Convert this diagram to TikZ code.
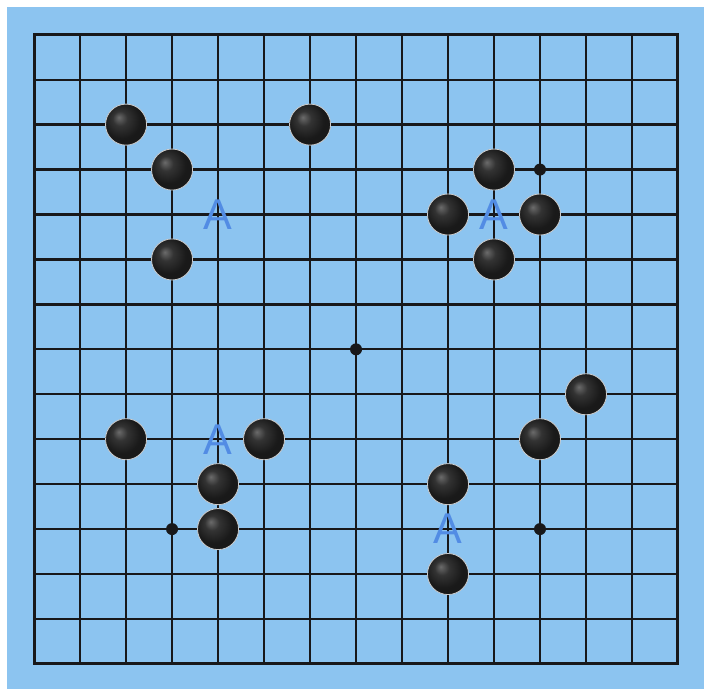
\documentclass[tikz,border=0pt]{standalone}
\usepackage{fontspec}
\setsansfont{Liberation Sans}
\definecolor{boardblue}{RGB}{140,196,240}
\definecolor{markblue}{RGB}{82,140,228}
\definecolor{linegray}{RGB}{24,24,26}
\pgfdeclareradialshading{stoneshade}{\pgfpoint{-9bp}{9bp}}{color(0bp)=(black!58);
  color(9bp)=(black!80); color(22bp)=(black!90); color(50bp)=(black!90)}

\begin{document}
\begin{tikzpicture}[x=45.93pt,y=-44.88pt,
  stone/.style={shading=stoneshade,draw=white!60!gray,line width=0.8pt},
  pointlabel/.style={font=\sffamily\fontsize{43}{43}\selectfont,text=markblue,inner sep=0pt}]
\useasboundingbox (-0.741,-0.773) rectangle (14.566,14.623);
\fill[boardblue] (-0.588,-0.617) rectangle (14.566,14.56);
% grid
\foreach \i in {1,...,13} {
  \draw[linegray,line width=2.3pt] (\i,0)--(\i,14);
  \draw[linegray,line width=2.3pt] (0,\i)--(14,\i);
}
\draw[linegray,line width=3pt] (0,0) rectangle (14,14);
% star points
\foreach \p in {(7,7),(11,3),(3,11),(11,11)} \fill[linegray] \p circle (6pt);
% stones
\foreach \p in {(2,2),(6,2),(3,3),(3,5),(10,3),(9,4),(11,4),(10,5),
  (12,8),(11,9),(2,9),(5,9),(4,10),(4,11),(9,10),(9,12)}
  \shade[stone] \p circle (20.5pt);
% labels
\node[pointlabel] (aTL) at (4,4) {A};
\node[pointlabel] (aTR) at (10,4) {A};
\node[pointlabel] (aBL) at (4,9) {A};
\node[pointlabel] (aBR) at (9,11) {A};
\end{tikzpicture}
\end{document}
